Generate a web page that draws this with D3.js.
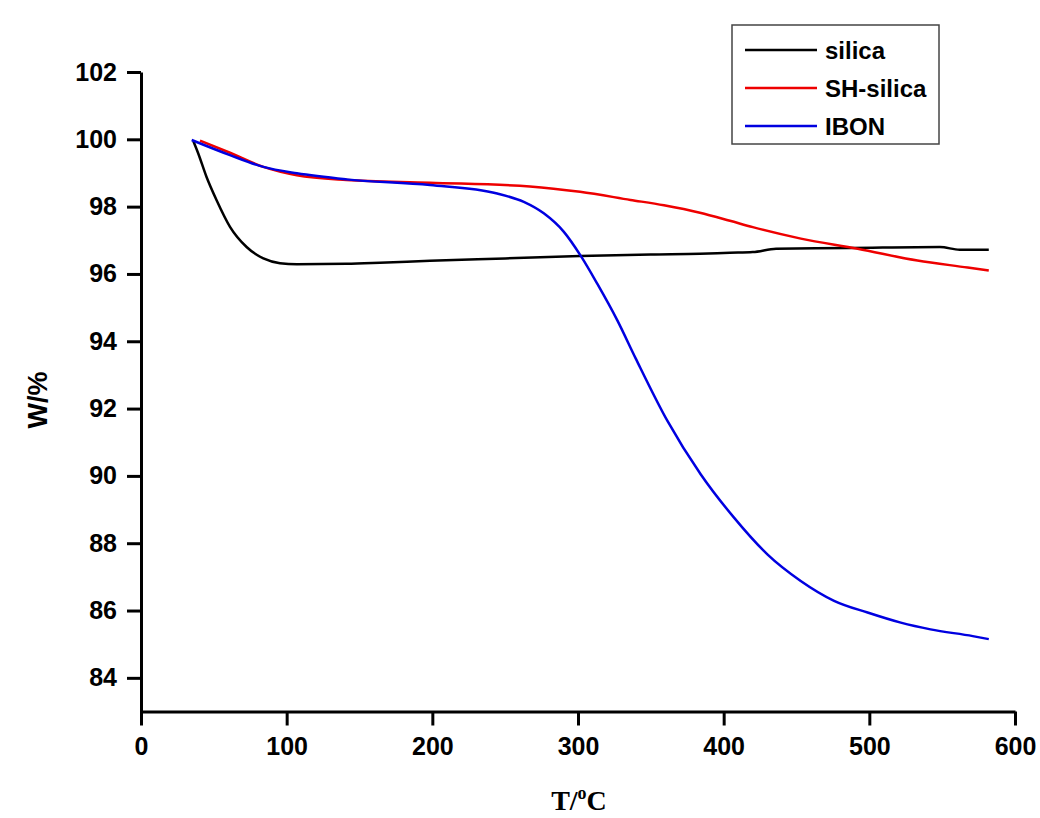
<html>
<head>
<script src="https://d3js.org/d3.v7.min.js"></script>
<style>
  body { margin: 0; background: #fff; }
  text { font-family: Arial, "Liberation Sans", sans-serif; font-weight: bold; fill: #000; }
</style>
</head>
<body>
<svg id="chart" width="1040" height="818"></svg>
<script>
// series: temperature (°C) and weight (%)
const silicaT = [35.9, 39.3, 45, 51.9, 61.1, 72.5, 84, 95.4, 107, 141, 164, 198.4, 250, 301.4, 350, 383.7, 404.3, 420, 436, 486.7, 548.5, 562, 582];
const silicaW = [99.95, 99.58, 98.88, 98.19, 97.4, 96.8, 96.46, 96.32, 96.29, 96.3, 96.33, 96.39, 96.46, 96.53, 96.58, 96.6, 96.63, 96.65, 96.75, 96.77, 96.8, 96.72, 96.72];

const shT = [40.5, 61.1, 84, 107, 141, 198.4, 267, 301.4, 336, 359, 383.7, 404.3, 420, 453, 492, 533, 567.5, 582];
const shW = [99.96, 99.6, 99.18, 98.93, 98.79, 98.71, 98.6, 98.44, 98.2, 98.04, 97.82, 97.58, 97.39, 97.05, 96.75, 96.4, 96.19, 96.1];

const ibonT = [34.8, 61.1, 84, 107, 141, 198.4, 244.5, 262.8, 276.5, 290.3, 301.7, 313.2, 327, 339.5, 361.3, 384.2, 407.1, 430, 452.9, 475.8, 498.8, 521.6, 542, 571, 582];
const ibonW = [99.98, 99.53, 99.18, 98.99, 98.81, 98.64, 98.39, 98.14, 97.8, 97.25, 96.55, 95.71, 94.62, 93.5, 91.64, 90.05, 88.76, 87.67, 86.88, 86.29, 85.94, 85.64, 85.44, 85.24, 85.15];

const seriesNames = ['silica', 'SH-silica', 'IBON'];
const seriesColors = ['#000000', '#ee0000', '#0000e0'];

const xTicks = [0, 100, 200, 300, 400, 500, 600];
const yTicks = [84, 86, 88, 90, 92, 94, 96, 98, 100, 102];

const svg = d3.select('#chart');

const x = d3.scaleLinear().domain([0, 600]).range([141, 1015]);
const y = d3.scaleLinear().domain([83, 102]).range([711.5, 72]);

const zip = (ts, ws) => ts.map((t, i) => ({t: t, w: ws[i]}));
const series = [zip(silicaT, silicaW), zip(shT, shW), zip(ibonT, ibonW)];

const line = d3.line()
    .x(d => x(d.t))
    .y(d => y(d.w))
    .curve(d3.curveMonotoneX);

series.forEach((s, i) => {
    svg.append('path')
        .attr('d', line(s))
        .attr('fill', 'none')
        .attr('stroke', seriesColors[i])
        .attr('stroke-width', 2.5);
});

// axes: major ticks with labels, minor ticks in between
const xAxis = svg.append('g').attr('transform', 'translate(0,711.5)');
xAxis.call(d3.axisBottom(x).tickValues(d3.range(0, 601, 50)).tickFormat('').tickSize(7).tickSizeOuter(0));
xAxis.call(d3.axisBottom(x).tickValues(xTicks).tickSize(14).tickSizeOuter(0).tickPadding(12));

const yAxis = svg.append('g').attr('transform', 'translate(141,0)');
yAxis.call(d3.axisLeft(y).tickValues(d3.range(83, 102.1, 1)).tickFormat('').tickSize(7).tickSizeOuter(0));
yAxis.call(d3.axisLeft(y).tickValues(yTicks).tickSize(14).tickSizeOuter(0).tickPadding(10));

svg.selectAll('.domain').attr('stroke', '#000').attr('stroke-width', 3);
svg.selectAll('.tick line').attr('stroke', '#000').attr('stroke-width', 3);
svg.selectAll('.tick text').style('font-size', '25px').style('font-family', 'Arial, "Liberation Sans", sans-serif').style('font-weight', 'bold');

// axis titles
svg.append('text')
    .attr('transform', 'translate(47,400) rotate(-90)')
    .attr('text-anchor', 'middle')
    .style('font-size', '27px')
    .text('W/%');

const xt = svg.append('text')
    .attr('x', 579).attr('y', 810)
    .attr('text-anchor', 'middle')
    .style('font-family', '"Liberation Serif", "Times New Roman", serif')
    .style('font-size', '28px');
xt.append('tspan').text('T/');
xt.append('tspan').attr('dy', -11).style('font-size', '18px').text('o');
xt.append('tspan').attr('dy', 11).text('C');

// legend
svg.append('rect')
    .attr('x', 732).attr('y', 25)
    .attr('width', 207).attr('height', 119)
    .attr('fill', 'none')
    .attr('stroke', '#444')
    .attr('stroke-width', 1.5);

const legendY = [50, 88, 126];
seriesNames.forEach((name, i) => {
    svg.append('line')
        .attr('x1', 745).attr('x2', 817)
        .attr('y1', legendY[i]).attr('y2', legendY[i])
        .attr('stroke', seriesColors[i])
        .attr('stroke-width', 2.5);
    svg.append('text')
        .attr('x', 825).attr('y', legendY[i] + 9)
        .style('font-size', '24px')
        .text(name);
});
</script>
</body>
</html>
